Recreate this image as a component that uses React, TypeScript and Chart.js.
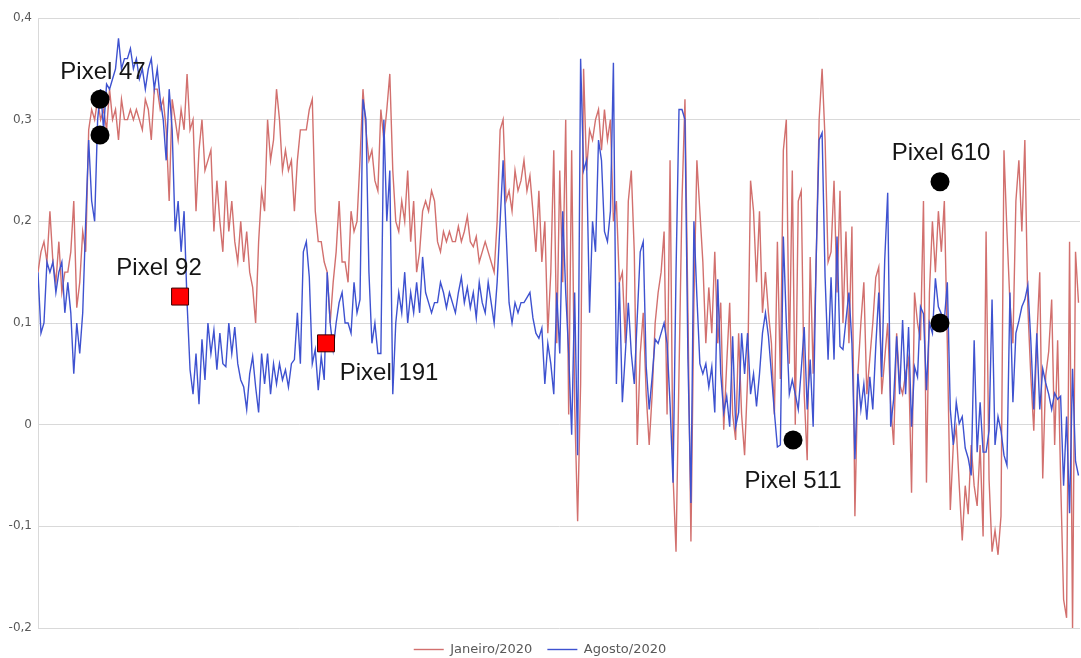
import React, { useEffect, useRef } from 'react';
import { Chart, registerables } from 'chart.js';

Chart.register(...registerables);

const SERIES_NAMES = ['Janeiro/2020', 'Agosto/2020'];
const SAMPLE_STEP = 2; // pixel-index distance between consecutive samples
const X_MAX = 699;

const JANEIRO = [
  0.15, 0.17, 0.18, 0.16, 0.21, 0.16, 0.14, 0.18, 0.13, 0.15,
  0.15, 0.17, 0.22, 0.115, 0.14, 0.19, 0.17, 0.29, 0.31, 0.30,
  0.32, 0.30, 0.31, 0.29, 0.33, 0.30, 0.31, 0.28, 0.32, 0.30,
  0.30, 0.31, 0.30, 0.31, 0.30, 0.29, 0.32, 0.31, 0.28, 0.33,
  0.33, 0.31, 0.32, 0.29, 0.22, 0.32, 0.30, 0.28, 0.31, 0.29,
  0.345, 0.29, 0.30, 0.21, 0.27, 0.30, 0.25, 0.26, 0.27, 0.19,
  0.24, 0.20, 0.17, 0.24, 0.19, 0.22, 0.18, 0.16, 0.20, 0.16,
  0.19, 0.15, 0.135, 0.10, 0.18, 0.23, 0.21, 0.30, 0.26, 0.28,
  0.33, 0.30, 0.25, 0.27, 0.25, 0.26, 0.21, 0.26, 0.29, 0.29,
  0.29, 0.31, 0.32, 0.21, 0.18, 0.18, 0.16, 0.15, 0.10, 0.14,
  0.17, 0.22, 0.16, 0.16, 0.14, 0.21, 0.19, 0.20, 0.26, 0.33,
  0.29, 0.26, 0.27, 0.24, 0.23, 0.31, 0.28, 0.31, 0.345, 0.25,
  0.20, 0.19, 0.22, 0.20, 0.25, 0.18, 0.22, 0.15, 0.17, 0.21,
  0.22, 0.21, 0.23, 0.22, 0.18, 0.17, 0.19, 0.18, 0.19, 0.18,
  0.18, 0.195, 0.18, 0.19, 0.205, 0.18, 0.175, 0.185, 0.16, 0.17,
  0.18, 0.17, 0.16, 0.15, 0.20, 0.29, 0.30, 0.22, 0.23, 0.21,
  0.25, 0.23, 0.24, 0.26, 0.23, 0.245, 0.21, 0.17, 0.23, 0.16,
  0.20, 0.09, 0.15, 0.27, 0.08, 0.25, 0.14, 0.30, 0.01, 0.27,
  0.02, -0.095, 0.04, 0.35, 0.25, 0.29, 0.28, 0.30, 0.31, 0.27,
  0.31, 0.28, 0.30, 0.20, 0.22, 0.14, 0.15, 0.08, 0.22, 0.25,
  0.17, -0.02, 0.07, 0.11, 0.03, -0.02, 0.03, 0.10, 0.13, 0.15,
  0.19, 0.01, 0.26, -0.05, -0.125, 0.05, 0.22, 0.32, 0.11, -0.115,
  0.12, 0.26, 0.21, 0.16, 0.08, 0.135, 0.09, 0.17, 0.08, 0.12,
  -0.005, 0.06, 0.12, 0.01, -0.015, 0.09, 0.01, -0.03, 0.045, 0.24,
  0.21, 0.14, 0.21, 0.11, 0.15, 0.11, 0.08, 0.01, 0.18, 0.045,
  0.27, 0.30, 0.06, 0.25, 0.0, 0.22, 0.23, 0.03, -0.035, 0.165,
  0.05, 0.16, 0.30, 0.35, 0.28, 0.16, 0.17, 0.24, 0.13, 0.23,
  0.10, 0.19, 0.08, 0.195, -0.09, 0.05, 0.10, 0.14, 0.03, 0.065,
  0.10, 0.145, 0.155, 0.03, 0.065, 0.10, 0.02, -0.02, 0.09, 0.04,
  0.03, 0.05, 0.065, -0.067, 0.13, 0.10, 0.083, 0.22, -0.057, 0.13,
  0.20, 0.15, 0.21, 0.17, 0.22, 0.08, -0.084, -0.02, -0.003, -0.06,
  -0.114, -0.06, -0.088, -0.02, -0.06, -0.08, -0.02, -0.11, 0.19, -0.054,
  -0.125, -0.104, -0.128, -0.09, 0.27, 0.19, 0.12, 0.08, 0.22, 0.26,
  0.19, 0.28, 0.116, 0.048, -0.006, 0.083, 0.15, -0.053, 0.048, 0.072,
  0.123, -0.02, 0.083, -0.053, -0.172, -0.19, 0.18, -0.2, 0.17, 0.12,
];

const AGOSTO = [
  0.15, 0.09, 0.10, 0.16, 0.15, 0.16, 0.13, 0.15, 0.16, 0.11,
  0.14, 0.11, 0.05, 0.10, 0.07, 0.11, 0.20, 0.28, 0.22, 0.20,
  0.30, 0.33, 0.29, 0.335, 0.33, 0.34, 0.35, 0.38, 0.35, 0.36,
  0.36, 0.37, 0.35, 0.36, 0.34, 0.35, 0.33, 0.35, 0.36, 0.33,
  0.35, 0.32, 0.30, 0.26, 0.33, 0.29, 0.19, 0.22, 0.17, 0.21,
  0.12, 0.054, 0.03, 0.07, 0.02, 0.084, 0.044, 0.10, 0.07, 0.093,
  0.054, 0.09, 0.06, 0.057, 0.10, 0.07, 0.096, 0.06, 0.044, 0.037,
  0.015, 0.05, 0.067, 0.037, 0.012, 0.07, 0.04, 0.07, 0.03, 0.06,
  0.04, 0.06, 0.044, 0.054, 0.037, 0.06, 0.064, 0.11, 0.06, 0.17,
  0.18, 0.145, 0.06, 0.074, 0.034, 0.067, 0.044, 0.15, 0.10, 0.074,
  0.10, 0.12, 0.13, 0.10, 0.10, 0.09, 0.14, 0.11, 0.123, 0.32,
  0.30, 0.15, 0.08, 0.10, 0.07, 0.07, 0.30, 0.20, 0.25, 0.03,
  0.10, 0.13, 0.11, 0.15, 0.10, 0.13, 0.11, 0.14, 0.11, 0.165,
  0.13, 0.12, 0.11, 0.12, 0.12, 0.14, 0.13, 0.115, 0.13, 0.12,
  0.11, 0.13, 0.145, 0.12, 0.135, 0.115, 0.13, 0.105, 0.14, 0.12,
  0.11, 0.14, 0.12, 0.10, 0.14, 0.20, 0.26, 0.19, 0.12, 0.10,
  0.12, 0.11, 0.12, 0.12, 0.125, 0.13, 0.105, 0.09, 0.085, 0.095,
  0.04, 0.08, 0.06, 0.03, 0.13, 0.07, 0.21, 0.13, 0.07, -0.01,
  0.13, -0.03, 0.36, 0.25, 0.26, 0.11, 0.20, 0.17, 0.28, 0.26,
  0.19, 0.18, 0.21, 0.356, 0.04, 0.14, 0.022, 0.07, 0.12, 0.07,
  0.04, 0.106, 0.17, 0.18, 0.057, 0.015, 0.047, 0.084, 0.08, 0.09,
  0.10, 0.08, 0.02, -0.057, 0.15, 0.31, 0.31, 0.30, 0.064, -0.077,
  0.20, 0.126, 0.06, 0.05, 0.06, 0.037, 0.057, 0.012, 0.143, 0.05,
  0.012, 0.028, -0.002, 0.087, -0.002, 0.012, 0.09, 0.05, 0.09, 0.03,
  0.05, 0.018, 0.05, 0.09, 0.11, 0.087, 0.05, 0.012, -0.022, -0.02,
  0.185, 0.10, 0.03, 0.044, 0.03, 0.015, 0.054, 0.096, 0.015, 0.064,
  -0.002, 0.162, 0.28, 0.287, 0.145, 0.064, 0.145, 0.064, 0.185, 0.077,
  0.074, 0.103, 0.13, 0.08, -0.034, 0.05, 0.015, 0.04, 0.005, 0.047,
  0.015, 0.077, 0.13, 0.047, 0.162, 0.228, -0.002, 0.025, 0.087, 0.03,
  0.103, 0.03, 0.096, -0.002, 0.057, 0.047, 0.116, 0.109, 0.034, 0.10,
  0.09, 0.144, 0.116, 0.109, 0.103, 0.14, 0.015, -0.02, 0.022, 0.001,
  0.008, -0.023, -0.033, -0.05, 0.083, -0.027, 0.022, -0.027, -0.027, -0.006,
  0.123, -0.02, 0.008, -0.006, -0.03, -0.04, 0.13, 0.022, 0.09, 0.102,
  0.116, 0.123, 0.137, 0.083, 0.015, 0.09, 0.015, 0.055, 0.041, 0.03,
  0.015, 0.031, 0.025, 0.028, -0.06, 0.008, -0.087, 0.055, -0.036, -0.05,
];

const Y_MIN = -0.2;
const Y_MAX = 0.4;
const Y_STEP = 0.1;

// Highlighted pixels (x in pixel-index units, y in series units)
const CIRCLE_X = [41.6, 41.6, 506.5, 605.1, 605.1];
const CIRCLE_Y = [0.32, 0.285, -0.015, 0.239, 0.10];
const SQUARE_X = [95.3, 193.2];
const SQUARE_Y = [0.126, 0.08];

const LABEL_TEXT = ['Pixel 47', 'Pixel 92', 'Pixel 191', 'Pixel 511', 'Pixel 610'];
const LABEL_X = [43.6, 81.2, 235.5, 506.5, 605.8];
const LABEL_Y = [0.347, 0.154, 0.05, -0.056, 0.267];

const RED = 'rgb(210, 112, 110)';
const BLUE = 'rgb(62, 82, 208)';

function fmtTick(v: number): string {
  const r = Math.round(v * 10) / 10;
  if (r === 0) return '0';
  return r.toFixed(1).replace('.', ',');
}

export default function App() {
  const ref = useRef<HTMLCanvasElement | null>(null);

  useEffect(() => {
    document.body.style.margin = '0';
    const canvas = ref.current;
    if (!canvas) return;

    const labelPlugin = {
      id: 'pixelLabels',
      afterDatasetsDraw(chart: any) {
        const { ctx } = chart;
        const xs = chart.scales.x;
        const ys = chart.scales.y;
        ctx.save();
        ctx.font = '24px "Liberation Sans", Arial, sans-serif';
        ctx.fillStyle = '#151515';
        ctx.textAlign = 'center';
        ctx.textBaseline = 'middle';
        LABEL_TEXT.forEach((t, i) => {
          ctx.fillText(t, xs.getPixelForValue(LABEL_X[i]), ys.getPixelForValue(LABEL_Y[i]));
        });
        ctx.restore();
      },
    };

    const chart = new Chart(canvas, {
      type: 'line',
      data: {
        datasets: [
          {
            label: SERIES_NAMES[0],
            data: JANEIRO.map((v, i) => ({ x: i * SAMPLE_STEP, y: v })),
            borderColor: RED,
            backgroundColor: RED,
            borderWidth: 1.4,
            pointRadius: 0,
            tension: 0,
            order: 3,
          },
          {
            label: SERIES_NAMES[1],
            data: AGOSTO.map((v, i) => ({ x: i * SAMPLE_STEP, y: v })),
            borderColor: BLUE,
            backgroundColor: BLUE,
            borderWidth: 1.4,
            pointRadius: 0,
            tension: 0,
            order: 2,
          },
          {
            label: 'circles',
            data: CIRCLE_X.map((x, i) => ({ x, y: CIRCLE_Y[i] })),
            showLine: false,
            pointRadius: 9.5,
            pointBackgroundColor: '#000',
            pointBorderColor: '#000',
            pointBorderWidth: 0,
            clip: false,
            order: 1,
          },
          {
            label: 'squares',
            data: SQUARE_X.map((x, i) => ({ x, y: SQUARE_Y[i] })),
            showLine: false,
            pointStyle: 'rect',
            pointRadius: 12,
            pointBackgroundColor: '#ff0000',
            pointBorderColor: '#3a0000',
            pointBorderWidth: 1,
            clip: false,
            order: 0,
          },
        ],
      },
      options: {
        responsive: true,
        maintainAspectRatio: false,
        animation: false,
        events: [],
        layout: { autoPadding: false, padding: { top: 18, right: 1, left: 0, bottom: 0 } },
        scales: {
          x: { type: 'linear', min: 0, max: X_MAX, display: false },
          y: {
            min: Y_MIN,
            max: Y_MAX,
            afterFit: (s: any) => { s.width = 38; },
            ticks: {
              stepSize: Y_STEP,
              padding: 6,
              color: '#595959',
              font: { family: '"DejaVu Sans", sans-serif', size: 12 },
              callback: (v: any) => fmtTick(Number(v)),
            },
            grid: { color: '#d9d9d9', drawTicks: false, lineWidth: 1 },
            border: { display: true, color: '#d9d9d9' },
          },
        },
        plugins: {
          tooltip: { enabled: false },
          legend: {
            position: 'bottom',
            maxHeight: 30,
            labels: {
              usePointStyle: true,
              pointStyle: 'line',
              pointStyleWidth: 30,
              padding: 15,
              color: '#595959',
              font: { family: '"DejaVu Sans", sans-serif', size: 13 },
              filter: (item: any) => item.datasetIndex < 2,
              sort: (a: any, b: any) => a.datasetIndex - b.datasetIndex,
            },
          },
        },
      } as any,
      plugins: [labelPlugin],
    });

    return () => chart.destroy();
  }, []);

  return (
    <div style={{ position: 'relative', width: 1081, height: 658 }}>
      <canvas ref={ref} />
    </div>
  );
}
